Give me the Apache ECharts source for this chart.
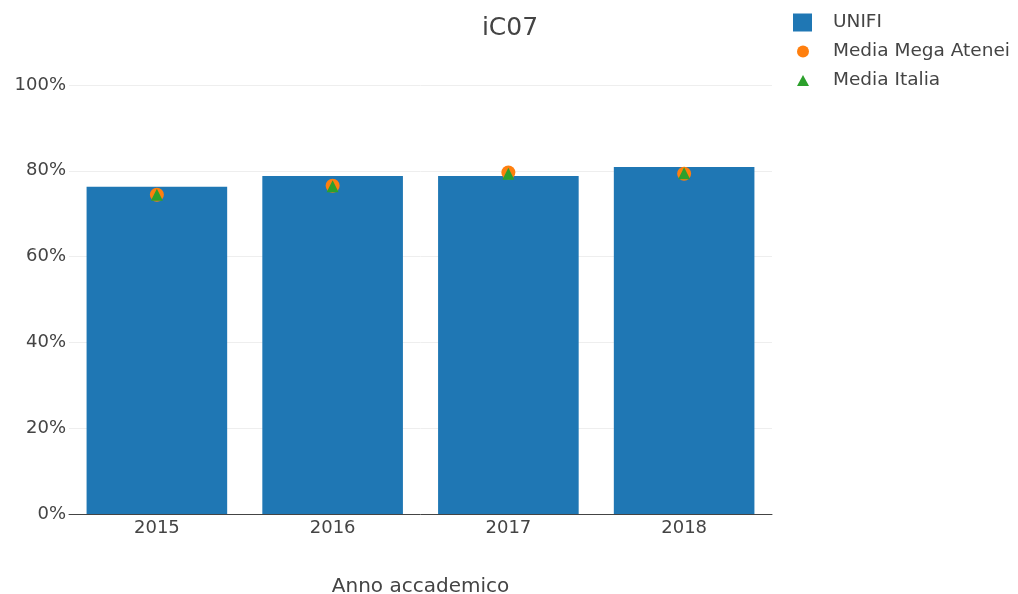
<!DOCTYPE html>
<html>
<head>
<meta charset="utf-8">
<script src="https://cdn.jsdelivr.net/npm/echarts@6/dist/echarts.min.js"></script>
<style>
  html, body { margin: 0; padding: 0; background: #fff; }
  #chart { width: 1018px; height: 594px; }
</style>
</head>
<body>
<div id="chart"></div>
<script>
var years = ["2015", "2016", "2017", "2018"];
var unifi = [76.3, 78.8, 78.8, 80.9];
var megaAtenei = [74.4, 76.5, 79.6, 79.3];
var mediaItalia = [74.4, 76.4, 79.3, 79.4];
var yTicks = [0, 20, 40, 60, 80, 100];

var font = "DejaVu Sans";
var textColor = "#444";

var myChart = echarts.init(document.getElementById("chart"));

// one legend per series so each icon can keep its own size
function legendItem(name, icon, color, left, top, w, h, pad) {
  return {
    orient: "vertical",
    left: left,
    top: top,
    padding: 0,
    itemWidth: w,
    itemHeight: h,
    selectedMode: false,
    textStyle: { color: textColor, fontSize: 18.5, fontFamily: font, padding: [0, 0, 0, pad] },
    data: [{ name: name, icon: icon, itemStyle: { color: color } }]
  };
}

var option = {
  animation: false,
  textStyle: { fontFamily: font },
  title: {
    text: "iC07",
    left: 505,
    top: 11,
    textAlign: "center",
    textStyle: { color: textColor, fontSize: 25, fontWeight: "normal", fontFamily: font }
  },
  legend: [
    legendItem("UNIFI", "rect", "#1f77b4", 793, 13, 19, 18, 16),
    legendItem("Media Mega Atenei", "circle", "#ff7f0e", 797, 42, 12, 12, 19),
    legendItem("Media Italia", "triangle", "#2ca02c", 797, 71, 12, 11, 19)
  ],
  grid: { left: 69, right: 246, top: 85, bottom: 80, outerBoundsMode: "none", containLabel: false },
  xAxis: {
    type: "category",
    data: years,
    name: "Anno accademico",
    nameLocation: "middle",
    nameGap: 63,
    nameTextStyle: { color: textColor, fontSize: 20, fontFamily: font },
    axisLine: { show: true, lineStyle: { color: "#444", width: 1 } },
    axisTick: { show: false },
    axisLabel: { color: textColor, fontSize: 18, margin: 5, fontFamily: font }
  },
  yAxis: {
    type: "value",
    min: 0,
    max: 100,
    interval: 20,
    axisLine: { show: false },
    axisTick: { show: false },
    splitLine: { lineStyle: { color: "#eeeeee", width: 1 } },
    axisLabel: {
      color: textColor,
      fontSize: 18,
      margin: 3,
      fontFamily: font,
      formatter: function (v) { return yTicks.indexOf(v) >= 0 ? v + "%" : ""; }
    }
  },
  series: [
    {
      name: "UNIFI",
      type: "bar",
      data: unifi,
      barCategoryGap: "20%",
      itemStyle: { color: "#1f77b4" },
      z: 1
    },
    {
      name: "Media Mega Atenei",
      type: "scatter",
      data: megaAtenei,
      symbol: "circle",
      symbolSize: 14,
      itemStyle: { color: "#ff7f0e", opacity: 1 },
      z: 3
    },
    {
      name: "Media Italia",
      type: "scatter",
      data: mediaItalia,
      symbol: "triangle",
      symbolSize: 12,
      itemStyle: { color: "#2ca02c", opacity: 1 },
      z: 4
    }
  ]
};
myChart.setOption(option);
window.addEventListener("resize", function () {
  myChart.resize();
});
</script>
</body>
</html>
